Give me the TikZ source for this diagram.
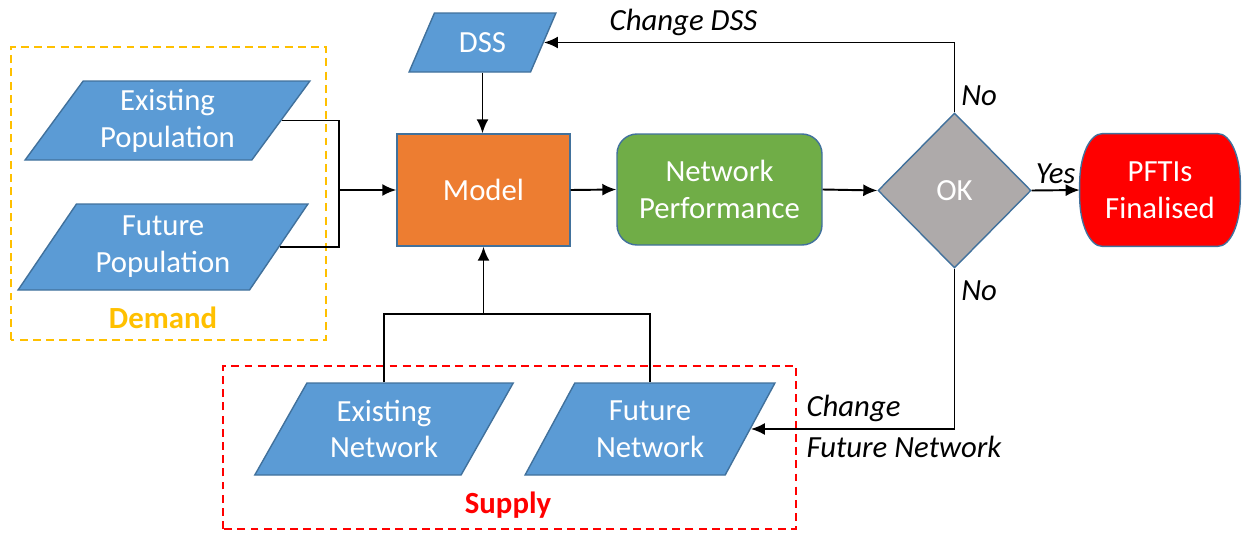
\documentclass[tikz,border=0pt]{standalone}
\usepackage{fontspec}
\setmainfont{Carlito}
\usepackage{tikz}
\usetikzlibrary{shapes.geometric,arrows.meta,backgrounds}
\definecolor{boxblue}{HTML}{5B9BD5}
\definecolor{edgeblue}{HTML}{41719C}
\definecolor{modelorange}{HTML}{ED7D31}
\definecolor{perfgreen}{HTML}{70AD47}
\definecolor{okgray}{HTML}{AEAAAA}
\definecolor{demandgold}{HTML}{FFC000}

\begin{document}
\begin{tikzpicture}[font=\fontsize{17.5}{21}\selectfont,
 inbox/.style={trapezium,trapezium stretches=true,trapezium left angle=56,trapezium right angle=124,
   draw=edgeblue,line width=0.8pt,fill=boxblue,text=white,align=center},
 flow/.style={line width=1.1pt,-{Latex[length=2.8mm,width=2.4mm]}},
 link/.style={line width=1.1pt},
 lbl/.style={font=\fontsize{17.5}{21}\selectfont\itshape}]
\useasboundingbox (0,0) rectangle (24.86,10.64);

% demand
\draw[demandgold,line width=1pt,dash pattern=on 4.5pt off 3pt] (0.22,3.84) rectangle (6.52,9.70);
\node (demand) at (3.26,4.28) [text=demandgold,font=\fontsize{17.5}{21}\selectfont\bfseries] {Demand};
\node (expop) at (3.35,8.23) [inbox,minimum width=5.7cm,minimum height=1.58cm] {Existing\\Population};
\node (futpop) at (3.26,5.70) [inbox,minimum width=5.8cm,minimum height=1.72cm] {Future\\Population};

% supply
\draw[red,line width=1pt,dash pattern=on 4.5pt off 3pt] (4.46,0.06) rectangle (15.92,3.32);
\node (supply) at (10.16,0.54) [text=red,font=\fontsize{17.5}{21}\selectfont\bfseries] {Supply};
\node (exnet) at (7.68,2.06) [inbox,trapezium left angle=60,trapezium right angle=120,minimum width=5.17cm,minimum height=1.84cm] {Existing\\Network};
\node (futnet) at (13.0,2.06) [inbox,trapezium left angle=60,trapezium right angle=120,minimum width=5.0cm,minimum height=1.84cm] {Future\\Network};

% main row
\node (dss) at (9.65,9.79) [inbox,trapezium left angle=64,trapezium right angle=116,minimum width=2.94cm,minimum height=1.18cm] {DSS};
\node (model) at (9.67,6.84) [rectangle,draw=edgeblue,line width=0.8pt,fill=modelorange,text=white,minimum width=3.46cm,minimum height=2.24cm] {Model};
\node (netperf) at (14.39,6.85) [rectangle,rounded corners=0.4cm,draw=edgeblue,line width=0.8pt,fill=perfgreen,text=white,align=center,minimum width=4.1cm,minimum height=2.22cm] {Network\\Performance};
\node (ok) at (19.09,6.83) [diamond,draw=edgeblue,line width=0.8pt,fill=okgray,text=white,minimum width=3.06cm,minimum height=3.1cm,inner sep=0pt] {OK};
\node (pfti) at (23.2,6.84) [rectangle,text=white,align=center,minimum width=3.2cm,minimum height=2.24cm] {PFTIs\\Finalised};
\begin{scope}[on background layer]
\draw[edgeblue,fill=red,line width=0.8pt] ([xshift=0.45cm]pfti.north west) -- ([xshift=-0.45cm]pfti.north east)
  arc[start angle=90,end angle=0,x radius=0.45cm,y radius=1cm] -- ([yshift=1cm]pfti.south east)
  arc[start angle=0,end angle=-90,x radius=0.45cm,y radius=1cm] -- ([xshift=0.45cm]pfti.south west)
  arc[start angle=270,end angle=180,x radius=0.45cm,y radius=1cm] -- ([yshift=-1cm]pfti.north west)
  arc[start angle=180,end angle=90,x radius=0.45cm,y radius=1cm] -- cycle;
\end{scope}

% connectors
\coordinate (popjoin) at (6.78,6.84);
\coordinate (netjoin) at (9.67,4.36);
\draw[link] (expop.east) -| (popjoin);
\draw[link] (futpop.east) -| (popjoin);
\draw[flow] (popjoin) -- (model.west);
\draw[flow] (dss.south) -- (dss.south |- model.north);
\draw[link] (exnet.north) |- (netjoin);
\draw[link] (futnet.north) |- (netjoin);
\draw[flow] (netjoin) -- (model.south);
\draw[flow] (model.east) -- (netperf.west);
\draw[flow] (netperf.east) -- (ok.west);
\draw[flow] (ok.east) -- node[lbl,above] {Yes} (pfti.west);
\draw[flow] (ok.north) |- node[lbl,pos=0.12,right] {No} node[lbl,pos=0.83,above] {Change DSS} (dss.east);
\draw[flow] (ok.south) |- node[lbl,pos=0.07,right] {No} node[lbl,pos=0.88,above right] {Change} node[lbl,pos=0.88,below right] {Future Network} (futnet.east);
\end{tikzpicture}
\end{document}
